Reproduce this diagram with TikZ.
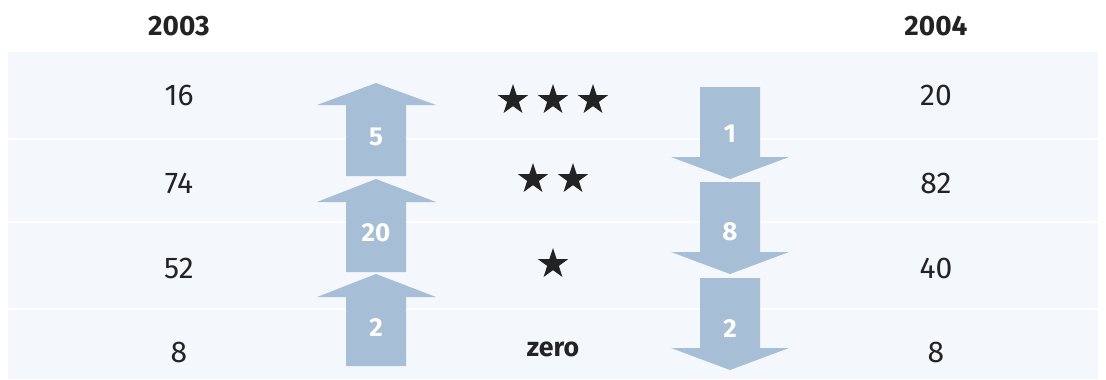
\documentclass[tikz,border=0pt]{standalone}
\usepackage{fontspec}
\setmainfont{Fira Sans}
\usepackage{tikz}
\usetikzlibrary{shapes.geometric}
\definecolor{bandblue}{RGB}{244,247,251}
\definecolor{arrowblue}{RGB}{166,190,214}
\definecolor{inkgray}{RGB}{35,35,35}
\tikzset{
  yearlabel/.style={font=\fontsize{21}{25}\selectfont\bfseries, text=inkgray, inner sep=0pt},
  count/.style={font=\fontsize{22.5}{26}\selectfont, text=inkgray, inner sep=0pt},
  blockarrow/.style={fill=arrowblue, draw=none},
  arrowlabel/.style={font=\fontsize{19.5}{23}\selectfont\bfseries, text=white, inner sep=0pt},
  starmark/.style={star, star points=5, star point ratio=2.6, fill=inkgray, draw=none, inner sep=0pt, minimum size=24pt},
  rowline/.style={draw=white, line width=2pt}
}
\begin{document}
\begin{tikzpicture}[x=0.75pt,y=-0.75pt]
  \useasboundingbox (0,0) rectangle (1106,379);
  % background band
  \fill[bandblue] (8,52) rectangle (1098,379);
  \foreach \yy in {139,222,309}
    \draw[rowline] (8,\yy) -- (1098,\yy);

  % headers
  \node[yearlabel] (y2003) at (179,26) {2003};
  \node[yearlabel] (y2004) at (936,26) {2004};

  % counts
  \foreach \n/\yy/\a/\b in {1/95/16/20, 2/183/74/82, 3/268/52/40, 4/352/8/8}{
    \node[count] (old\n) at (179,\yy) {\a};
    \node[count] (new\n) at (936,\yy) {\b};
  }

  % up arrows
  \foreach \n/\tip/\base/\bot/\ly/\val in {1/83/105/176/137/5, 2/179/202/272/233/20, 3/274/297/366/328/2}{
    \fill[blockarrow] (346,\bot) -- (346,\base) -- (317,\base) -- (376,\tip)
      -- (436,\base) -- (406,\base) -- (406,\bot) -- cycle;
    \node[arrowlabel] (up\n) at (376,\ly) {\val};
  }

  % down arrows
  \foreach \n/\top/\base/\tip/\ly/\val in {1/87/157/179/134/1, 2/182/252/274/232/8, 3/278/348/370/329/2}{
    \fill[blockarrow] (700,\top) -- (700,\base) -- (671,\base) -- (730,\tip)
      -- (789,\base) -- (760,\base) -- (760,\top) -- cycle;
    \node[arrowlabel] (dn\n) at (730,\ly) {\val};
  }

  % ratings
  \foreach \xx/\nm in {513/a,553/b,593/c}
    \node[starmark] (three\nm) at (\xx,100) {};
  \foreach \xx/\nm in {533/a,573/b}
    \node[starmark] (two\nm) at (\xx,179) {};
  \node[starmark] (onea) at (553,264) {};
  \node[yearlabel, font=\fontsize{20}{24}\selectfont\bfseries] (zero) at (553,349) {zero};
\end{tikzpicture}
\end{document}
